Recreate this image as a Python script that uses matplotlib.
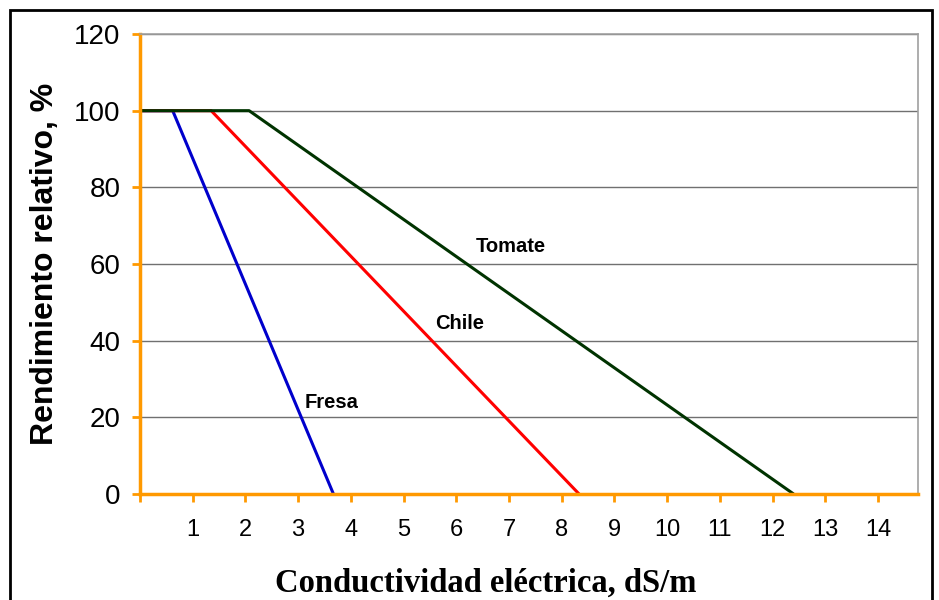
"""Rendimiento relativo vs conductividad eléctrica (fresa, chile, tomate)."""
import matplotlib.pyplot as plt
from matplotlib.patches import Rectangle

ORANGE = "#ff9900"

crops = ["Fresa", "Chile", "Tomate"]
colors = ["#0000cc", "#ff0000", "#003300"]
# (x, y) break points for each crop
xs = [[0, 0.62, 3.67], [0, 1.35, 8.33], [0, 2.07, 12.4]]
ys = [[100, 100, 0], [100, 100, 0], [100, 100, 0]]
label_pos = [(3.63, 24), (6.06, 44.5), (7.03, 64.5)]

x_ticks = list(range(0, 15))
x_labels = [""] + [str(i) for i in range(1, 15)]
y_ticks = [0, 20, 40, 60, 80, 100, 120]

fig = plt.figure(figsize=(9.39, 6.0), dpi=100)
ax = fig.add_axes([140 / 939, 106 / 600, 778 / 939, 460 / 600])

for name, c, x, y, (lx, ly) in zip(crops, colors, xs, ys, label_pos):
    ax.plot(x, y, color=c, lw=2.2, solid_capstyle="butt")
    ax.text(lx, ly, name, fontsize=14.5, fontweight="bold", family="Liberation Sans",
            ha="center", va="center")

ax.set_xlim(0, 14.76)
ax.set_ylim(0, 120)
ax.set_xticks(x_ticks)
ax.set_xticklabels(x_labels, family="Liberation Sans", fontsize=17)
ax.set_yticks(y_ticks)
ax.set_yticklabels([str(v) for v in y_ticks], family="Liberation Sans", fontsize=20)
ax.grid(axis="y", color="#707070", lw=1)
ax.set_axisbelow(True)

for side in ["left", "bottom"]:
    ax.spines[side].set_color(ORANGE)
    ax.spines[side].set_linewidth(2.5)
for side in ["top", "right"]:
    ax.spines[side].set_color("#a0a0a0")
    ax.spines[side].set_linewidth(1.2)
ax.tick_params(axis="both", color=ORANGE, width=2, length=6)
ax.tick_params(axis="x", pad=12)
ax.tick_params(axis="y", pad=8)

ax.set_ylabel("Rendimiento relativo, %", fontsize=23, fontweight="bold",
              family="Liberation Sans", labelpad=10)
fig.text(486 / 939, 1 - 583 / 600, "Conductividad eléctrica, dS/m", fontsize=23.5,
         fontweight="bold", family="Liberation Serif", ha="center", va="center")

fig.patches.append(Rectangle((10 / 939, -0.05), 922 / 939, 0.05 + 590 / 600,
                             transform=fig.transFigure, fill=False,
                             edgecolor="black", lw=2))

fig.savefig("out.png", dpi=100)
